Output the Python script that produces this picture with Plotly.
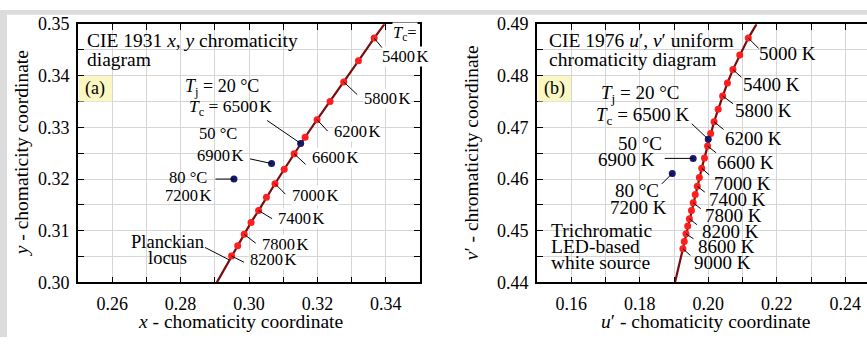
import plotly.graph_objects as go

# ---------------- data ----------------
# (a) CIE 1931 x,y : Planckian locus points, 200 K steps
cct_xy = [5400, 5600, 5800, 6000, 6200, 6400, 6600, 6800, 7000, 7200, 7400, 7600, 7800, 8000, 8200]
x_xy = [0.3366, 0.3320, 0.3277, 0.3237, 0.3199, 0.3164, 0.3132, 0.3103, 0.3076, 0.3051,
        0.3028, 0.3006, 0.2986, 0.2967, 0.2949]
y_xy = [0.3473, 0.3429, 0.3388, 0.3350, 0.3315, 0.3281, 0.3249, 0.3219, 0.3191, 0.3165,
        0.3139, 0.3116, 0.3093, 0.3071, 0.3051]
# locus line ends (where the curve leaves the frame)
locus_xy_lo = (0.2906, 0.300)
locus_xy_hi = (0.3396, 0.350)
# LED source at three junction temperatures
led_label = ["20 °C", "50 °C", "80 °C"]
led_x = [0.3151, 0.3066, 0.2956]
led_y = [0.3269, 0.3230, 0.3200]

# (b) CIE 1976 u',v'
cct_uv = [5000, 5200, 5400, 5600, 5800, 6000, 6200, 6400, 6600, 6800, 7000,
          7200, 7400, 7600, 7800, 8000, 8200, 8400, 8600, 8800, 9000]
u_uv = [0.2117, 0.2092, 0.2072, 0.2056, 0.2042, 0.2029, 0.2017, 0.2007, 0.1998, 0.1989, 0.1981,
        0.1974, 0.1968, 0.1962, 0.1956, 0.1951, 0.1945, 0.1940, 0.1935, 0.1930, 0.1926]
v_uv = [0.4873, 0.4840, 0.4812, 0.4786, 0.4761, 0.4735, 0.4711, 0.4688, 0.4664, 0.4641, 0.4621,
        0.4603, 0.4586, 0.4570, 0.4554, 0.4539, 0.4523, 0.4509, 0.4494, 0.4479, 0.4465]
locus_uv_lo = (0.1903, 0.440)
locus_uv_hi = (0.2141, 0.490)
led_u = [0.2000, 0.1956, 0.1895]
led_v = [0.4677, 0.4640, 0.4611]

xy_ticks = [0.26, 0.28, 0.30, 0.32, 0.34]
uv_ticks = [0.16, 0.18, 0.20, 0.22, 0.24]

# ---------------- layout constants ----------------
W, H = 867, 347
FONT = "Liberation Serif"
RED = "#ff1e1e"
LOCUS = "#7a0c0c"
NAVY = "#18186e"
GRID = "#d6d6d6"


def P(px, py):
    return px / W, 1 - py / H


fig = go.Figure()

# ---- panel (a)
line_x = [locus_xy_lo[0]] + x_xy[::-1] + [locus_xy_hi[0]]
line_y = [locus_xy_lo[1]] + y_xy[::-1] + [locus_xy_hi[1]]
fig.add_trace(go.Scatter(x=line_x, y=line_y, mode="lines", line=dict(color=LOCUS, width=2.2),
                         xaxis="x", yaxis="y", hoverinfo="skip"))
fig.add_trace(go.Scatter(x=x_xy, y=y_xy, mode="markers", marker=dict(color=RED, size=7),
                         xaxis="x", yaxis="y", text=[f"{t} K" for t in cct_xy]))
fig.add_trace(go.Scatter(x=led_x, y=led_y, mode="markers", marker=dict(color=NAVY, size=7),
                         xaxis="x", yaxis="y", text=led_label))

# ---- panel (b)
line_u = [locus_uv_lo[0]] + u_uv[::-1] + [locus_uv_hi[0]]
line_v = [locus_uv_lo[1]] + v_uv[::-1] + [locus_uv_hi[1]]
fig.add_trace(go.Scatter(x=line_u, y=line_v, mode="lines", line=dict(color=LOCUS, width=2.2),
                         xaxis="x2", yaxis="y2", hoverinfo="skip"))
fig.add_trace(go.Scatter(x=u_uv, y=v_uv, mode="markers", marker=dict(color=RED, size=7),
                         xaxis="x2", yaxis="y2", text=[f"{t} K" for t in cct_uv]))
fig.add_trace(go.Scatter(x=led_u, y=led_v, mode="markers", marker=dict(color=NAVY, size=7),
                         xaxis="x2", yaxis="y2", text=led_label))

tickfont = dict(family=FONT, size=18, color="black")


def axis_common(**kw):
    d = dict(showline=True, linecolor="black", linewidth=1.6, ticks="inside", ticklen=6,
             tickwidth=1.3, tickcolor="black", showgrid=True, gridcolor=GRID, gridwidth=1,
             zeroline=False, tickfont=tickfont, fixedrange=True)
    d.update(kw)
    return d


fig.update_layout(
    width=W, height=H, autosize=False,
    margin=dict(l=0, r=0, t=0, b=0),
    paper_bgcolor="white", plot_bgcolor="white",
    font=dict(family=FONT, size=18, color="black"),
    showlegend=False,
    xaxis=axis_common(domain=[78 / W, 420 / W], range=[0.25, 0.35], anchor="y",
                      tickvals=xy_ticks, ticktext=[f"{v:.2f}" for v in xy_ticks],
                      mirror="allticks", ticklabelstandoff=4,
                      minor=dict(dtick=0.01, tick0=0.25, ticks="inside", ticklen=6, tickcolor="black",
                                 showgrid=True, gridcolor=GRID)),
    yaxis=axis_common(domain=[1 - 289 / H, 1 - 15 / H], range=[0.30, 0.35], anchor="x",
                      dtick=0.01, tick0=0.30, tickformat=".2f", mirror="allticks",
                      ticklabelstandoff=3,
                      minor=dict(dtick=0.005, tick0=0.30, ticks="inside", ticklen=6, tickcolor="black",
                                 showgrid=True, gridcolor=GRID)),
    xaxis2=axis_common(domain=[537 / W, 1.0], range=[0.15, 0.15 + 330 / 3425], anchor="y2",
                       tickvals=uv_ticks, ticktext=[f"{v:.2f}" for v in uv_ticks],
                       mirror="allticks", ticklabelstandoff=4,
                       minor=dict(dtick=0.01, tick0=0.15, ticks="inside", ticklen=6, tickcolor="black",
                                  showgrid=True, gridcolor=GRID)),
    yaxis2=axis_common(domain=[1 - 289 / H, 1 - 15 / H], range=[0.44, 0.49], anchor="x2",
                       dtick=0.01, tick0=0.44, tickformat=".2f", mirror=False,
                       ticklabelstandoff=3,
                       minor=dict(dtick=0.005, tick0=0.44, ticks="inside", ticklen=6, tickcolor="black",
                                  showgrid=True, gridcolor=GRID)),
)

shapes = []
# gray frame bands of the original figure
shapes.append(dict(type="rect", xref="paper", yref="paper", x0=0, x1=1, y0=1 - 5 / H, y1=1,
                   fillcolor="#dcdcdc", line=dict(width=0), layer="below"))
shapes.append(dict(type="rect", xref="paper", yref="paper", x0=0, x1=7 / W, y0=0, y1=1,
                   fillcolor="#dcdcdc", line=dict(width=0), layer="below"))
# yellow panel-label boxes
for x0 in (78, 537):
    a0 = P(x0 + 1, 97)
    a1 = P(x0 + 34, 70)
    shapes.append(dict(type="rect", xref="paper", yref="paper", x0=a0[0], x1=a1[0], y0=a0[1], y1=a1[1],
                       fillcolor="#fbf7c3", line=dict(width=0), layer="above"))
# Planckian locus leader
p0 = P(205, 252)
p1 = P(229, 265)
shapes.append(dict(type="line", xref="paper", yref="paper", x0=p0[0], y0=p0[1], x1=p1[0], y1=p1[1],
                   line=dict(color="black", width=1)))
fig.update_layout(shapes=shapes)

ann = []


def text(px, py, s, xanchor="center", size=18, bg=None, angle=0):
    x, y = P(px, py)
    d = dict(x=x, y=y, xref="paper", yref="paper", text=s, showarrow=False, xanchor=xanchor,
             yanchor="middle", font=dict(family=FONT, size=size, color="black"), textangle=angle,
             borderpad=0)
    if bg:
        d["bgcolor"] = bg
    ann.append(d)


def leader(x, y, xa, ya, dx, dy):
    ann.append(dict(x=x, y=y, xref=xa, yref=ya, ax=dx, ay=dy, axref="pixel", ayref="pixel",
                    text="", showarrow=True, arrowhead=0, arrowwidth=1, arrowcolor="black",
                    standoff=0, startstandoff=0))


K = "\u200aK"
SA = 16.5   # small labels, panel (a)
# ---- panel (a) texts
text(86, 32, "CIE 1931 <i>x</i>, <i>y</i> chromaticity", xanchor="left", size=19.5)
text(86, 52, "diagram", xanchor="left", size=19.5)
text(95, 83, "(a)", size=18)
text(222, 82, "<i>T</i><sub>j</sub> = 20 °C", size=18)
text(231, 103, "<i>T</i><sub>c</sub> = 6500" + K, size=17.5)
text(218, 131, "50 °C", size=SA)
text(220, 154, "6900" + K, size=SA)
text(188, 178, "80 °C", size=SA)
text(188, 197, "7200" + K, size=SA)
text(167, 246, "Planckian", size=18.5)
text(167, 263, "locus", size=18.5)
text(405, 24, "<i>T</i><sub>c</sub>=", bg="white", size=SA)
text(405, 49, "5400" + K, bg="white", size=SA)
labels_a = {5800: (387, 94), 6200: (357, 129), 6600: (335, 157), 7000: (315, 197),
            7400: (301, 221), 7800: (285, 249), 8200: (273, 265)}
for t, (px, py) in labels_a.items():
    text(px, py, f"{t}" + K, bg="white", size=SA)

offs_a = {5400: (9, 11), 5800: (15, 14), 6200: (12, 13), 6600: (13, 12), 7000: (12, 12),
          7400: (15, 9), 7800: (13, 10), 8200: (14, 7)}
for t, (dx, dy) in offs_a.items():
    i = cct_xy.index(t)
    leader(x_xy[i], y_xy[i], "x", "y", dx, dy)
leader(led_x[0], led_y[0], "x", "y", -35, -24)
leader(led_x[1], led_y[1], "x", "y", -23, -5)
leader(led_x[2], led_y[2], "x", "y", -20, 0)

# ---- panel (b) texts
SB = 19
text(548, 32, "CIE 1976 <i>u</i>′, <i>v</i>′ uniform", xanchor="left", size=19.5)
text(548, 53, "chromaticity diagram", xanchor="left", size=19.5)
text(554, 83, "(b)", size=18)
text(640, 89, "<i>T</i><sub>j</sub> = 20 °C", size=SB)
text(642, 112, "<i>T</i><sub>c</sub> = 6500 K", size=SB)
text(640, 142, "50 °C", size=SB)
text(626, 159, "6900 K", size=SB)
text(637, 192, "80 °C", size=SB)
text(638, 210, "7200 K", size=SB)
text(550, 234, "Trichromatic", xanchor="left", size=19.5)
text(550, 251, "LED-based", xanchor="left", size=19.5)
text(550, 268, "white source", xanchor="left", size=19.5)
labels_b = {5000: (787, 46), 5400: (771, 79), 5800: (763, 107), 6200: (753, 136), 6600: (745, 162),
            7000: (742, 184), 7400: (737, 201), 7800: (733, 218), 8200: (730, 235), 8600: (726, 251),
            9000: (722, 268)}
for t, (px, py) in labels_b.items():
    text(px, py, f"{t} K", size=SB)
offs_b = {5000: (12, 12), 5400: (10, 9), 5800: (12, 9), 6200: (11, 9), 6600: (10, 8), 7000: (9, 8),
          7400: (9, 7), 7800: (9, 7), 8200: (9, 7), 8600: (9, 6), 9000: (9, 8)}
for t, (dx, dy) in offs_b.items():
    i = cct_uv.index(t)
    leader(u_uv[i], v_uv[i], "x2", "y2", dx, dy)
leader(led_u[0], led_v[0], "x2", "y2", -18, -17)
leader(led_u[1], led_v[1], "x2", "y2", -30, 0)
leader(led_u[2], led_v[2], "x2", "y2", -12, 12)

# ---- axis titles
text(240, 331, "<i>x</i> - chomaticity coordinate", size=19.5)
text(705, 331, "<i>u</i>′ - chomaticity coordinate", size=19.5)
text(21, 152, "<i>y</i> - chomaticity coordinate", angle=-90, size=19.5)
text(471, 152, "<i>v</i>′ - chromaticity coordinate", angle=-90, size=19.5)

fig.update_layout(annotations=ann)
fig.write_html("out.html")
